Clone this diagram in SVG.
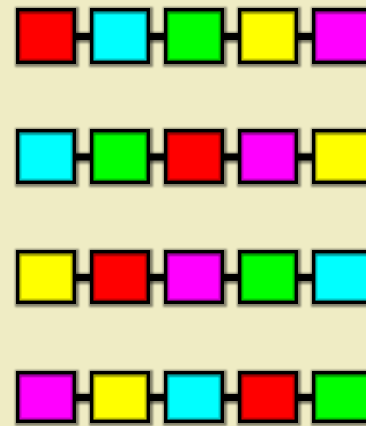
<svg xmlns="http://www.w3.org/2000/svg" width="366" height="426" viewBox="0 0 366 426">
  <style>
    .bg { fill: #efecc4; }
    .box { stroke: #000; stroke-width: 3.5; }
    .inset { fill: none; stroke: #000; stroke-opacity: 0.22; stroke-width: 2; }
    .topband { fill: #000; fill-opacity: 0.2; }
    .conn { stroke: #000; stroke-width: 7; fill: none; }
    .r { fill: #ff0000; } .c { fill: #00ffff; } .g { fill: #00ff00; } .y { fill: #ffff00; } .m { fill: #ff00ff; }
  </style>
  <defs>
    <filter id="sh" x="-20%" y="-20%" width="140%" height="140%">
      <feMorphology in="SourceAlpha" operator="dilate" radius="2"/>
      <feGaussianBlur stdDeviation="0.8"/>
      <feOffset dx="0.5" dy="0.8"/>
      <feComponentTransfer><feFuncA type="linear" slope="0.45"/></feComponentTransfer>
      <feMerge><feMergeNode/><feMergeNode in="SourceGraphic"/></feMerge>
    </filter>
  </defs>
  <rect class="bg" width="366" height="426"/>
  <g id="connectors" filter="url(#sh)">
    <line class="conn" x1="74" y1="36.5" x2="92" y2="36.5"/>
    <line class="conn" x1="148" y1="36.5" x2="166" y2="36.5"/>
    <line class="conn" x1="222" y1="36.5" x2="240" y2="36.5"/>
    <line class="conn" x1="296" y1="36.5" x2="314" y2="36.5"/>
    <line class="conn" x1="74" y1="157" x2="92" y2="157"/>
    <line class="conn" x1="148" y1="157" x2="166" y2="157"/>
    <line class="conn" x1="222" y1="157" x2="240" y2="157"/>
    <line class="conn" x1="296" y1="157" x2="314" y2="157"/>
    <line class="conn" x1="74" y1="277.5" x2="92" y2="277.5"/>
    <line class="conn" x1="148" y1="277.5" x2="166" y2="277.5"/>
    <line class="conn" x1="222" y1="277.5" x2="240" y2="277.5"/>
    <line class="conn" x1="296" y1="277.5" x2="314" y2="277.5"/>
    <line class="conn" x1="74" y1="397.5" x2="92" y2="397.5"/>
    <line class="conn" x1="148" y1="397.5" x2="166" y2="397.5"/>
    <line class="conn" x1="222" y1="397.5" x2="240" y2="397.5"/>
    <line class="conn" x1="296" y1="397.5" x2="314" y2="397.5"/>
  </g>
  <!-- row 1 -->
  <g id="n1_1" filter="url(#sh)"><rect class="box r" x="17.75" y="9.75" width="56.5" height="52.5"/><rect class="topband" x="19.5" y="11.5" width="53" height="3"/><rect class="inset" x="20.5" y="12.5" width="51" height="47"/></g>
  <g id="n1_2" filter="url(#sh)"><rect class="box c" x="91.75" y="9.75" width="56.5" height="52.5"/><rect class="topband" x="93.5" y="11.5" width="53" height="3"/><rect class="inset" x="94.5" y="12.5" width="51" height="47"/></g>
  <g id="n1_3" filter="url(#sh)"><rect class="box g" x="165.75" y="9.75" width="56.5" height="52.5"/><rect class="topband" x="167.5" y="11.5" width="53" height="3"/><rect class="inset" x="168.5" y="12.5" width="51" height="47"/></g>
  <g id="n1_4" filter="url(#sh)"><rect class="box y" x="239.75" y="9.75" width="56.5" height="52.5"/><rect class="topband" x="241.5" y="11.5" width="53" height="3"/><rect class="inset" x="242.5" y="12.5" width="51" height="47"/></g>
  <g id="n1_5" filter="url(#sh)"><rect class="box m" x="313.75" y="9.75" width="56.5" height="52.5"/><rect class="topband" x="315.5" y="11.5" width="53" height="3"/><rect class="inset" x="316.5" y="12.5" width="51" height="47"/></g>
  <!-- row 2 -->
  <g id="n2_1" filter="url(#sh)"><rect class="box c" x="17.75" y="130.75" width="56.5" height="51.5"/><rect class="topband" x="19.5" y="132.5" width="53" height="3"/><rect class="inset" x="20.5" y="133.5" width="51" height="46"/></g>
  <g id="n2_2" filter="url(#sh)"><rect class="box g" x="91.75" y="130.75" width="56.5" height="51.5"/><rect class="topband" x="93.5" y="132.5" width="53" height="3"/><rect class="inset" x="94.5" y="133.5" width="51" height="46"/></g>
  <g id="n2_3" filter="url(#sh)"><rect class="box r" x="165.75" y="130.75" width="56.5" height="51.5"/><rect class="topband" x="167.5" y="132.5" width="53" height="3"/><rect class="inset" x="168.5" y="133.5" width="51" height="46"/></g>
  <g id="n2_4" filter="url(#sh)"><rect class="box m" x="239.75" y="130.75" width="56.5" height="51.5"/><rect class="topband" x="241.5" y="132.5" width="53" height="3"/><rect class="inset" x="242.5" y="133.5" width="51" height="46"/></g>
  <g id="n2_5" filter="url(#sh)"><rect class="box y" x="313.75" y="130.75" width="56.5" height="51.5"/><rect class="topband" x="315.5" y="132.5" width="53" height="3"/><rect class="inset" x="316.5" y="133.5" width="51" height="46"/></g>
  <!-- row 3 -->
  <g id="n3_1" filter="url(#sh)"><rect class="box y" x="17.75" y="251.75" width="56.5" height="50.5"/><rect class="topband" x="19.5" y="253.5" width="53" height="3"/><rect class="inset" x="20.5" y="254.5" width="51" height="45"/></g>
  <g id="n3_2" filter="url(#sh)"><rect class="box r" x="91.75" y="251.75" width="56.5" height="50.5"/><rect class="topband" x="93.5" y="253.5" width="53" height="3"/><rect class="inset" x="94.5" y="254.5" width="51" height="45"/></g>
  <g id="n3_3" filter="url(#sh)"><rect class="box m" x="165.75" y="251.75" width="56.5" height="50.5"/><rect class="topband" x="167.5" y="253.5" width="53" height="3"/><rect class="inset" x="168.5" y="254.5" width="51" height="45"/></g>
  <g id="n3_4" filter="url(#sh)"><rect class="box g" x="239.75" y="251.75" width="56.5" height="50.5"/><rect class="topband" x="241.5" y="253.5" width="53" height="3"/><rect class="inset" x="242.5" y="254.5" width="51" height="45"/></g>
  <g id="n3_5" filter="url(#sh)"><rect class="box c" x="313.75" y="251.75" width="56.5" height="50.5"/><rect class="topband" x="315.5" y="253.5" width="53" height="3"/><rect class="inset" x="316.5" y="254.5" width="51" height="45"/></g>
  <!-- row 4 -->
  <g id="n4_1" filter="url(#sh)"><rect class="box m" x="17.75" y="372.75" width="56.5" height="48.5"/><rect class="topband" x="19.5" y="374.5" width="53" height="3"/><rect class="inset" x="20.5" y="375.5" width="51" height="43"/></g>
  <g id="n4_2" filter="url(#sh)"><rect class="box y" x="91.75" y="372.75" width="56.5" height="48.5"/><rect class="topband" x="93.5" y="374.5" width="53" height="3"/><rect class="inset" x="94.5" y="375.5" width="51" height="43"/></g>
  <g id="n4_3" filter="url(#sh)"><rect class="box c" x="165.75" y="372.75" width="56.5" height="48.5"/><rect class="topband" x="167.5" y="374.5" width="53" height="3"/><rect class="inset" x="168.5" y="375.5" width="51" height="43"/></g>
  <g id="n4_4" filter="url(#sh)"><rect class="box r" x="239.75" y="372.75" width="56.5" height="48.5"/><rect class="topband" x="241.5" y="374.5" width="53" height="3"/><rect class="inset" x="242.5" y="375.5" width="51" height="43"/></g>
  <g id="n4_5" filter="url(#sh)"><rect class="box g" x="313.75" y="372.75" width="56.5" height="48.5"/><rect class="topband" x="315.5" y="374.5" width="53" height="3"/><rect class="inset" x="316.5" y="375.5" width="51" height="43"/></g>
</svg>
